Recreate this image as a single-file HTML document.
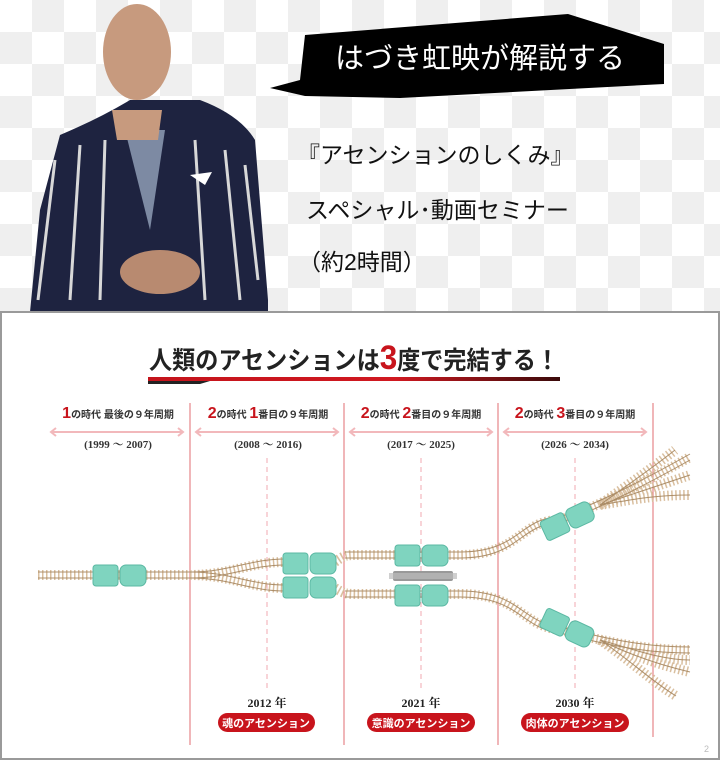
<!DOCTYPE html>
<html><head><meta charset="utf-8"><style>
body{margin:0;width:720px;height:761px;overflow:hidden;background:#fff;font-family:"Liberation Sans","Noto Sans CJK JP",sans-serif}
#top{position:absolute;left:0;top:0;width:720px;height:312px;
background-color:#fff;
background-image:linear-gradient(45deg,#efefef 25%,transparent 25%,transparent 75%,#efefef 75%),linear-gradient(45deg,#efefef 25%,transparent 25%,transparent 75%,#efefef 75%);
background-size:64px 64px;background-position:0 0,32px 32px}
svg{position:absolute;left:0;top:0}
</style></head><body>
<div id="top"></div>
<svg width="720" height="761" viewBox="0 0 720 761" font-family="Liberation Sans, Noto Sans CJK JP, sans-serif">
<path d="M60 135 Q100 118 130 100 L200 100 Q240 115 255 140 L268 300 L268 312 L30 312 L40 210 Z" fill="#1e2340"/>
<path d="M125 130 L165 130 L150 230 Z" fill="#7d8aa3"/>
<g stroke="#d8d8d8" stroke-width="3" fill="none">
<path d="M55 160 L38 300"/><path d="M80 145 L70 300"/><path d="M105 140 L100 300"/><path d="M195 140 L205 300"/><path d="M225 150 L240 300"/><path d="M245 165 L258 280"/>
</g>
<ellipse cx="137" cy="52" rx="34" ry="48" fill="#c79a7e"/>
<path d="M112 110 L162 110 L158 140 L117 140Z" fill="#c79a7e"/>
<ellipse cx="160" cy="272" rx="40" ry="22" fill="#b88a70"/>
<path d="M190 175 L212 172 L205 185Z" fill="#fff"/>
<polygon points="270,88 300,80 305,35 568,14 664,44 664,84 400,98 305,96" fill="#000"/>
<text x="480" y="68" font-size="29" fill="#fff" text-anchor="middle">はづき虹映が解説する</text>
<text x="297" y="163" font-size="23" fill="#111">『アセンションのしくみ』</text>
<text x="306" y="218" font-size="23" fill="#111">スペシャル･動画セミナー</text>
<text x="298" y="270" font-size="23" fill="#111">（約2時間）</text>
<rect x="1" y="312" width="718" height="447" fill="#fff" stroke="#9a9a9a" stroke-width="2"/>
<defs><linearGradient id="ul" x1="0" x2="1"><stop offset="0" stop-color="#c4141c"/><stop offset="0.6" stop-color="#d01820"/><stop offset="1" stop-color="#3a0a0a"/></linearGradient></defs>
<text x="354" y="369" font-size="25" font-weight="bold" fill="#222" text-anchor="middle" textLength="410" lengthAdjust="spacingAndGlyphs">人類のアセンションは<tspan fill="#c8141c" font-size="34">3</tspan>度で完結する！</text>
<rect x="148" y="377" width="412" height="4" fill="url(#ul)"/>
<path d="M148 381 L210 381 L200 384 L148 384Z" fill="#222"/>
<g stroke="#e7868a" stroke-width="1.2">
<line x1="190" y1="403" x2="190" y2="745"/><line x1="344" y1="403" x2="344" y2="745"/><line x1="498" y1="403" x2="498" y2="745"/><line x1="653" y1="403" x2="653" y2="737"/>
</g>
<g stroke="#f0aab0" stroke-width="1" stroke-dasharray="5 4">
<line x1="267" y1="458" x2="267" y2="690"/><line x1="421" y1="458" x2="421" y2="690"/><line x1="575" y1="458" x2="575" y2="690"/>
</g>
<g font-size="10" font-weight="bold" fill="#333" text-anchor="middle">
<text x="118" y="418"><tspan fill="#c8141c" font-size="16">1</tspan>の時代 最後の９年周期</text>
<text x="268" y="418"><tspan fill="#c8141c" font-size="16">2</tspan>の時代 <tspan fill="#c8141c" font-size="16">1</tspan>番目の９年周期</text>
<text x="421" y="418"><tspan fill="#c8141c" font-size="16">2</tspan>の時代 <tspan fill="#c8141c" font-size="16">2</tspan>番目の９年周期</text>
<text x="575" y="418"><tspan fill="#c8141c" font-size="16">2</tspan>の時代 <tspan fill="#c8141c" font-size="16">3</tspan>番目の９年周期</text>
</g>
<g font-size="11" font-weight="bold" fill="#333" text-anchor="middle" font-family="Liberation Serif, Noto Serif CJK SC, serif">
<text x="118" y="448">(1999 ～ 2007)</text><text x="268" y="448">(2008 ～ 2016)</text><text x="421" y="448">(2017 ～ 2025)</text><text x="575" y="448">(2026 ～ 2034)</text>
</g>
<g stroke="#f2b8bb" stroke-width="2" fill="none">
<path d="M52 432 H182 M56 428 L51 432 L56 436 M178 428 L183 432 L178 436"/>
<path d="M197 432 H337 M201 428 L196 432 L201 436 M333 428 L338 432 L333 436"/>
<path d="M351 432 H491 M355 428 L350 432 L355 436 M487 428 L492 432 L487 436"/>
<path d="M505 432 H645 M509 428 L504 432 L509 436 M641 428 L646 432 L641 436"/>
</g>
<g fill="none">
<g stroke="#d9bf9f" stroke-width="10" stroke-dasharray="1.5 2.5">
<path d="M38 575 H190 C230 575 250 562 285 562"/>
<path d="M190 575 C230 575 250 588 285 588"/>
<path d="M335 562 C345 555 345 555 360 555 H460 C520 555 520 520 560 520 C600 505 640 485 690 457"/>
<path d="M600 505 C630 495 660 485 690 475 M600 505 C640 498 660 495 690 495 M600 505 C620 490 650 470 675 450"/>
<path d="M335 588 C345 594 345 594 360 594 H460 C520 594 520 625 560 630 C600 640 640 650 690 650"/>
<path d="M600 640 C630 655 660 665 690 672 M600 640 C630 660 650 680 676 696 M600 640 C630 648 660 660 690 660"/>
</g>
<g stroke="#a6865f" stroke-width="1" opacity="0.9">
<path d="M38 572 H190 C230 572 250 559 285 559 M38 578 H190 C230 578 250 565 285 565"/>
<path d="M190 572 C230 572 250 585 285 585 M190 578 C230 578 250 591 285 591"/>
<path d="M345 552 H460 C520 552 520 517 560 517 C600 502 640 482 690 454 M345 558 H460 C520 558 520 523 560 523 C600 508 640 488 690 460"/>
<path d="M345 591 H460 C520 591 520 622 560 627 C600 637 640 647 690 647 M345 597 H460 C520 597 520 628 560 633 C600 643 640 653 690 653"/>
<path d="M600 505 C630 495 660 485 690 475 M600 505 C640 498 660 495 690 495 M600 505 C620 490 650 470 675 450"/>
<path d="M600 640 C630 655 660 665 690 672 M600 640 C630 660 650 680 676 696 M600 640 C630 648 660 660 690 660"/>
</g>
</g>
<rect x="393" y="571" width="60" height="10" rx="2" fill="#999"/>
<rect x="389" y="573" width="68" height="6" fill="#bbb" opacity="0.7"/>
<g fill="#7fd4bf" stroke="#5bb8a3" stroke-width="1">
<rect x="93" y="565" width="25" height="21" rx="3"/><rect x="120" y="565" width="26" height="21" rx="6"/>
<rect x="283" y="553" width="25" height="21" rx="3"/><rect x="310" y="553" width="26" height="21" rx="6"/>
<rect x="283" y="577" width="25" height="21" rx="3"/><rect x="310" y="577" width="26" height="21" rx="6"/>
<rect x="395" y="545" width="25" height="21" rx="3"/><rect x="422" y="545" width="26" height="21" rx="6"/>
<rect x="395" y="585" width="25" height="21" rx="3"/><rect x="422" y="585" width="26" height="21" rx="6"/>
<g transform="rotate(-25 568 520)"><rect x="541" y="510" width="25" height="21" rx="3"/><rect x="568" y="510" width="26" height="21" rx="6"/></g>
<g transform="rotate(25 568 628)"><rect x="541" y="618" width="25" height="21" rx="3"/><rect x="568" y="618" width="26" height="21" rx="6"/></g>
</g>
<g font-size="12" font-weight="bold" fill="#222" text-anchor="middle" font-family="Liberation Serif, Noto Serif CJK SC, serif">
<text x="267" y="707">2012 年</text><text x="421" y="707">2021 年</text><text x="575" y="707">2030 年</text>
</g>
<g fill="#c8141c"><rect x="218" y="713" width="97" height="19" rx="9.5"/><rect x="367" y="713" width="108" height="19" rx="9.5"/><rect x="521" y="713" width="108" height="19" rx="9.5"/></g>
<g font-size="11" font-weight="bold" fill="#fff" text-anchor="middle">
<text x="266" y="727">魂のアセンション</text><text x="421" y="727">意識のアセンション</text><text x="575" y="727">肉体のアセンション</text>
</g>
<text x="704" y="752" font-size="9" fill="#bbb">2</text>
</svg>
</body></html>
